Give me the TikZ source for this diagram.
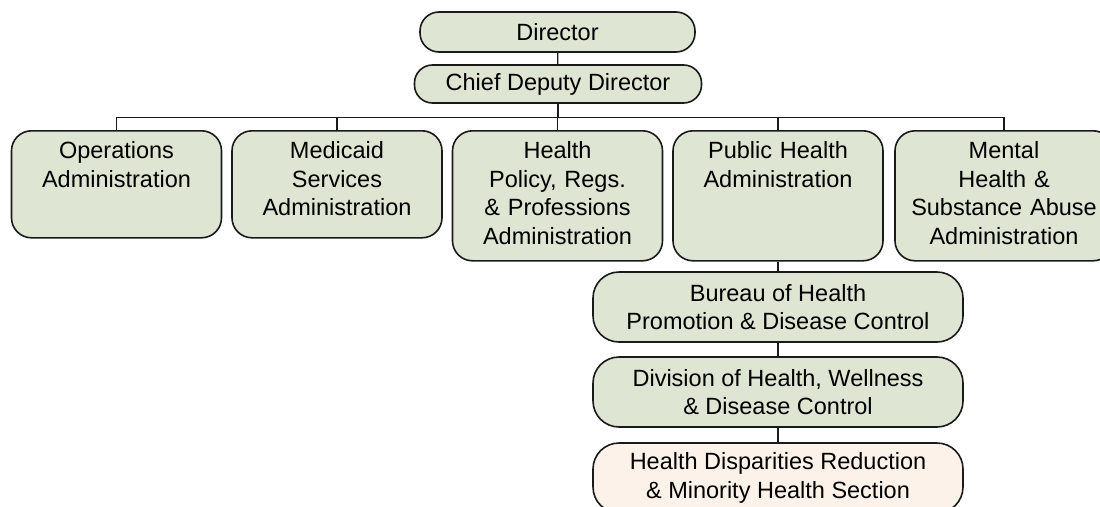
\documentclass[tikz,border=0pt]{standalone}
\usepackage{fontspec}
\setmainfont{Liberation Sans}
\usepackage{xcolor}
\usetikzlibrary{positioning}
\definecolor{Sage}{HTML}{DEE5D3}
\definecolor{Blush}{HTML}{FDF2E9}
\definecolor{Ink}{HTML}{1A1A1A}

\begin{document}
\begin{tikzpicture}[x=1pt,y=1pt,line width=1.6pt,
  pill/.style={draw=Ink,fill=Sage,rounded corners=#1,inner sep=0pt,font=\fontsize{23.5}{28.5}\selectfont},
  admin/.style={draw=Ink,fill=Sage,rounded corners=20pt,anchor=north,minimum width=210pt,text width=190pt,align=center,inner xsep=10pt,inner ysep=0pt,text height=28pt,text depth=#1,font=\fontsize{23.5}{28.5}\selectfont},
  unit/.style={draw=Ink,fill=#1,rounded corners=26pt,minimum width=370pt,minimum height=70pt,align=center,inner sep=0pt,font=\fontsize{23.5}{28.5}\selectfont},
  link/.style={draw=Ink,line width=1.3pt}
]
\useasboundingbox (0,0) rectangle (1100,-506);
\node[pill=19pt,minimum width=275pt,minimum height=40pt] (dir) at (557.5,-32) {Director};
\node[pill=18pt,minimum width=287pt,minimum height=38pt] (cdd) at (558,-84) {Chief Deputy Director};
\node[admin=79pt] (ops) at (116.5,-130) {Operations\\Administration};
\node[admin=79pt] (mcd) at (337,-130) {Medicaid\\Services\\Administration};
\node[admin=102pt] (hpr) at (557.5,-130) {Health\\Policy, Regs.\\\& Professions\\Administration};
\node[admin=102pt] (pha) at (778,-130) {Public Health\\Administration};
\node[admin=102pt,minimum width=218pt] (mhs) at (1004,-130) {Mental\\Health \&\\Substance Abuse\\Administration};
\node[unit=Sage] (bur) at (778,-307) {Bureau of Health\\Promotion \& Disease Control};
\node[unit=Sage] (div) at (778,-392) {Division of Health, Wellness\\\& Disease Control};
\node[unit=Blush] (hds) at (778,-478) {Health Disparities Reduction\\\& Minority Health Section};
\draw[link] (dir)--(cdd);
\foreach \b in {ops,mcd,hpr,pha,mhs}
  \draw[link] (cdd.south)--++(0,-14)-|(\b.north);
\draw[link] (pha)--(bur);
\draw[link] (bur)--(div);
\draw[link] (div)--(hds);
\end{tikzpicture}
\end{document}
